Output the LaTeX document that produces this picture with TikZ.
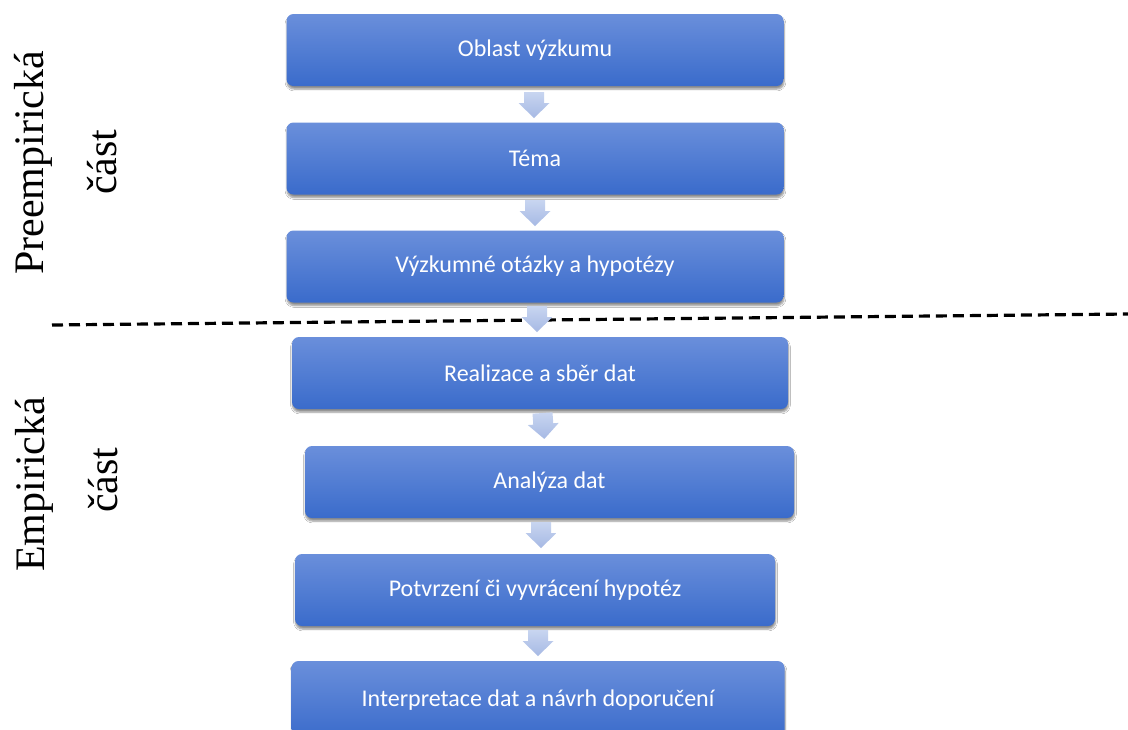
\documentclass[tikz,border=0pt]{standalone}
\usepackage{fontspec}
\setmainfont{Liberation Serif}
\newfontfamily\boxfont{Carlito}
\usetikzlibrary{shadows.blur}
\definecolor{boxtop}{HTML}{6A8FDB}
\definecolor{boxbot}{HTML}{3A6BCB}
\definecolor{arrtop}{HTML}{C8D5F0}
\definecolor{arrbot}{HTML}{A6B9E4}
\begin{document}
\begin{tikzpicture}[x=1pt,y=-1pt,
  stepbox/.style={rounded corners=7pt, top color=boxtop, bottom color=boxbot,
    text=white, font=\boxfont\fontsize{24}{28}\selectfont, inner sep=0pt,
    minimum height=72pt,
    blur shadow={shadow xshift=0.5pt, shadow yshift=-3pt, shadow blur steps=6, shadow opacity=45}},
  sidelabel/.style={rotate=90, anchor=base west, inner sep=0pt,
    font=\rmfamily\fontsize{42}{48}\selectfont},
  dashline/.style={line width=3.2pt, dash pattern=on 11pt off 6pt},
  downarrow/.pic={\path[top color=arrtop, bottom color=arrbot]
    (-10,0) -- (10,0) -- (10,11) -- (15.5,11) -- (0,26) -- (-15.5,11) -- (-10,11) -- cycle;}
]
\fill[white] (0,0) rectangle (1128,729);
\useasboundingbox (0,0) rectangle (1128,729);

% boxes
\node[stepbox, minimum width=497pt] (b1) at (535,50) {Oblast výzkumu};
\node[stepbox, minimum width=497pt] (b2) at (535,158.5) {Téma};
\node[stepbox, minimum width=497pt] (b3) at (535,266.5) {Výzkumné otázky a hypotézy};
\node[stepbox, minimum width=496pt] (b4) at (540,373) {Realizace a sběr dat};
\node[stepbox, minimum width=489pt] (b5) at (549.5,482) {Analýza dat};
\node[stepbox, minimum width=480pt] (b6) at (535,590) {Potvrzení či vyvrácení hypotéz};
\node[stepbox, minimum width=493pt, minimum height=78pt] (b7) at (538,700) {Interpretace dat a návrh doporučení};

% dashed divider
\coordinate (dl) at (52,325);
\coordinate (dr) at (1128,314);
\draw[dashline] (dl) -- (dr);

% block arrows between the boxes
\pic (a1) at (534,92) {downarrow};
\pic (a2) at (535,200) {downarrow};
\pic (a3) at (537,306) {downarrow};
\pic[rotate=4] (a4) at (542.5,413) {downarrow};
\pic (a5) at (541,522) {downarrow};
\pic (a6) at (538,630) {downarrow};

% side labels
\node[sidelabel] (pre) at (43,275) {Preempirická};
\node[sidelabel] (cast1) at (116,195) {část};
\node[sidelabel] (emp) at (45,572) {Empirická};
\node[sidelabel] (cast2) at (117,513) {část};
\end{tikzpicture}
\end{document}
